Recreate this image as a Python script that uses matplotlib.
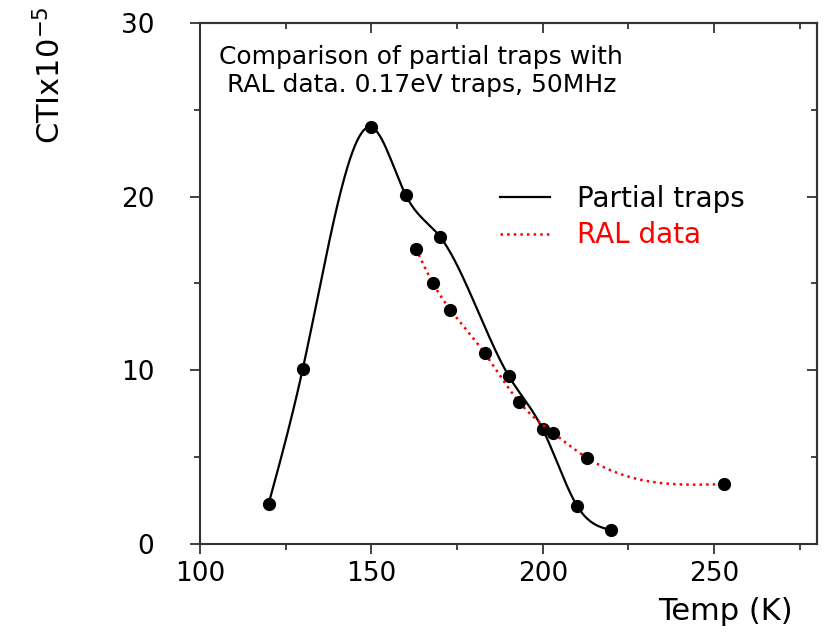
import matplotlib.pyplot as plt
from matplotlib.lines import Line2D
from matplotlib.ticker import MultipleLocator
import numpy as np

# partial traps model (black)
partial_T = [120, 130, 150, 160, 170, 190, 200, 210, 220]
partial_cti = [2.3, 10.1, 24.0, 20.1, 17.7, 9.7, 6.6, 2.2, 0.8]

# RAL measurements (red dotted)
ral_T = [163, 168, 173, 183, 193, 203, 213, 253]
ral_cti = [17.0, 15.0, 13.5, 11.0, 8.2, 6.4, 4.95, 3.45]

x_ticks = [100, 150, 200, 250]
y_ticks = [0, 10, 20, 30]


## smooth curve through the points (natural cubic spline)
def smooth(x, y, n=300):
    x, y = np.asarray(x, float), np.asarray(y, float)
    m, h = len(x), np.diff(x)
    A, b = np.zeros((m, m)), np.zeros(m)
    A[0, 0] = A[-1, -1] = 1
    for i in range(1, m - 1):
        A[i, i - 1], A[i, i], A[i, i + 1] = h[i - 1], 2 * (h[i - 1] + h[i]), h[i]
        b[i] = 3 * ((y[i + 1] - y[i]) / h[i] - (y[i] - y[i - 1]) / h[i - 1])
    c = np.linalg.solve(A, b)
    xs = np.linspace(x[0], x[-1], n)
    k = np.clip(np.searchsorted(x, xs) - 1, 0, m - 2)
    dx = xs - x[k]
    bb = (y[k + 1] - y[k]) / h[k] - h[k] * (2 * c[k] + c[k + 1]) / 3
    d = (c[k + 1] - c[k]) / (3 * h[k])
    return xs, y[k] + bb * dx + c[k] * dx ** 2 + d * dx ** 3


plt.rcParams['font.family'] = 'DejaVu Sans'
fig = plt.figure(figsize=(8.31, 6.37), dpi=100)
ax = fig.add_axes([200 / 831, 93 / 637, 617 / 831, 521 / 637])

xs, ys = smooth(partial_T, partial_cti)
ax.plot(xs, ys, '-', color='black', lw=1.6)
ax.plot(partial_T, partial_cti, 'o', color='black', ms=8.5)

xs, ys = smooth(ral_T, ral_cti)
ax.plot(xs, ys, ':', color='red', lw=1.8)
ax.plot(ral_T, ral_cti, 'o', color='black', ms=8.5)

ax.set_xlim(100, 280)
ax.set_ylim(0, 30)
ax.set_xticks(x_ticks)
ax.set_yticks(y_ticks)
ax.xaxis.set_minor_locator(MultipleLocator(25))
ax.yaxis.set_minor_locator(MultipleLocator(5))

for s in ax.spines.values():
    s.set_linewidth(1.5)
    s.set_color('#333333')
ax.tick_params(which='both', direction='out', color='#333333', width=1.3)
ax.tick_params(axis='x', labelsize=19, pad=5)
ax.tick_params(axis='y', labelsize=19, pad=26)
ax.tick_params(which='major', length=7)
ax.tick_params(which='minor', length=4)

# top and right ticks point inward
top = ax.secondary_xaxis('top')
right = ax.secondary_yaxis('right')
for sec in (top, right):
    sec.tick_params(which='both', direction='in', color='#333333', width=1.3,
                    labeltop=False, labelright=False)
    sec.tick_params(which='major', length=7)
    sec.tick_params(which='minor', length=4)
    for s in sec.spines.values():
        s.set_linewidth(1.5)
        s.set_color('#333333')
top.set_xticks(x_ticks)
top.xaxis.set_minor_locator(MultipleLocator(25))
right.set_yticks(y_ticks)
right.yaxis.set_minor_locator(MultipleLocator(5))

ax.set_xlabel('Temp (K)', fontsize=22, ha='right', va='center')
ax.xaxis.set_label_coords(0.961, -0.13)
ax.set_ylabel('CTIx10$^{\\mathregular{-5}}$', fontsize=22, ha='center', va='center')
ax.yaxis.set_label_coords(-0.243, 0.9)

ax.text(0.031, 0.958, 'Comparison of partial traps with\n RAL data. 0.17eV traps, 50MHz',
        transform=ax.transAxes, fontsize=18, va='top', ha='left', linespacing=1.2)

handles = [Line2D([], [], color='black', lw=1.6),
           Line2D([], [], color='red', lw=1.8, ls=':')]
leg = ax.legend(handles, ['Partial traps', 'RAL data'], loc='upper left',
                bbox_to_anchor=(0.445, 0.737), frameon=False, fontsize=20,
                handlelength=1.8, handletextpad=1.0, labelspacing=0.3)
leg.get_texts()[1].set_color('red')

fig.savefig('out.png', dpi=100)
